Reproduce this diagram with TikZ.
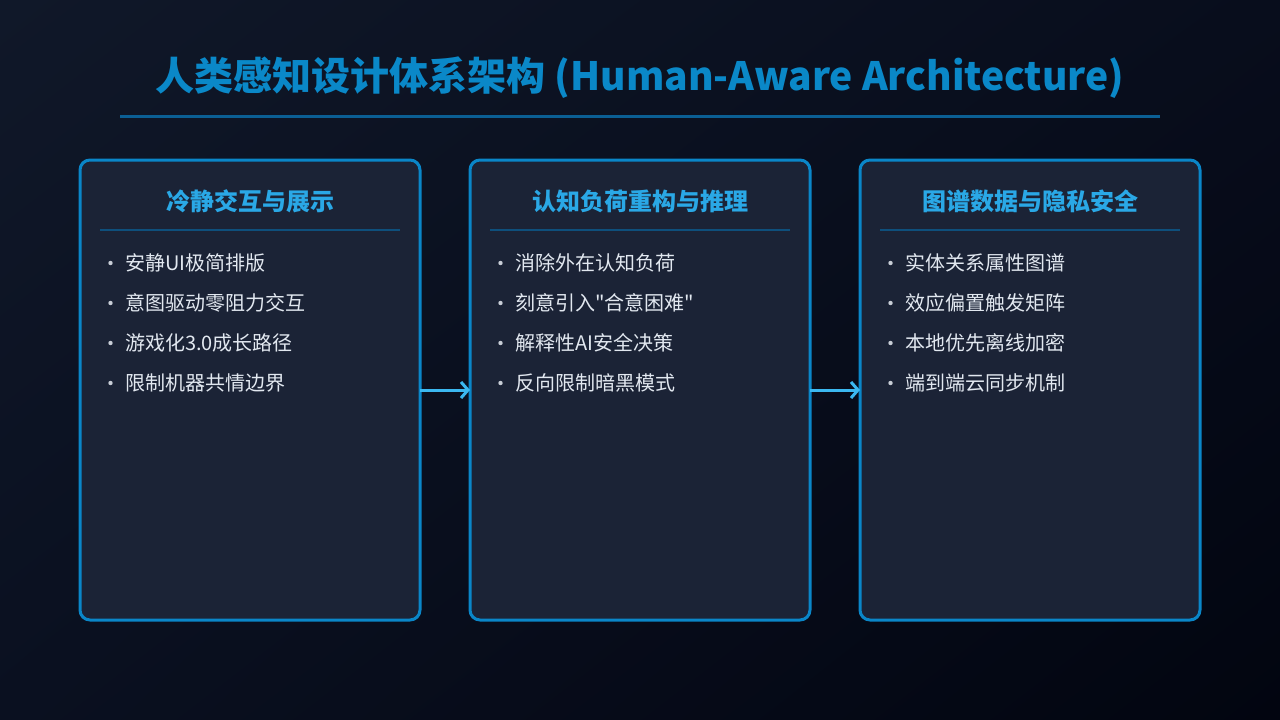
\documentclass[tikz,border=0pt]{standalone}
\usepackage{fontspec}
\setmainfont{Noto Sans CJK SC}
\newfontfamily\cjk{Noto Sans CJK SC}
\usetikzlibrary{arrows.meta,shadings}
\definecolor{titlec}{HTML}{0A88C8}
\definecolor{rulec}{HTML}{0B5F94}
\definecolor{boxfill}{HTML}{1B2336}
\definecolor{boxline}{HTML}{0A86C8}
\definecolor{headc}{HTML}{2AA8E6}
\definecolor{sepc}{HTML}{0E4F7C}
\definecolor{itemc}{HTML}{E2E8F0}
\definecolor{dotc}{HTML}{C8CDD6}
\definecolor{arrowc}{HTML}{3BB8F0}
\definecolor{bgA}{HTML}{101829}
\definecolor{bgB}{HTML}{080D1C}
\definecolor{bgC}{HTML}{0A1020}
\definecolor{bgD}{HTML}{020510}
\tikzset{
  panel/.style={draw=boxline, line width=3pt, fill=boxfill, rounded corners=10pt,
    minimum width=340pt, minimum height=460pt, inner sep=0pt, outer sep=0pt},
  headtext/.style={text=headc, font=\cjk\bfseries\fontsize{24}{28}\selectfont, anchor=base, inner sep=0pt},
  itemtext/.style={text=itemc, font=\cjk\fontsize{20}{24}\selectfont, anchor=base west, inner sep=0pt},
  bulletdot/.style={circle, fill=dotc, minimum size=4.4pt, inner sep=0pt},
  seprule/.style={draw=sepc, line width=2pt},
  flow/.style={draw=arrowc, line width=3pt, -{Straight Barb[length=7pt,width=16pt,line width=3pt]}},
}
\begin{document}
\begin{tikzpicture}[x=1pt,y=-1pt]
\useasboundingbox (0,0) rectangle (1280,720);
\shade[upper left=bgA, upper right=bgB, lower left=bgC, lower right=bgD] (0,0) rectangle (1280,720);
% title
\node[text=titlec, font=\cjk\bfseries\fontsize{39}{44}\selectfont, anchor=base, inner sep=0pt] (title) at (640,90) {人类感知设计体系架构 (Human-Aware Architecture)};
\coordinate (tl) at (120,116);
\coordinate (tr) at (1160,116);
\draw[draw=rulec, line width=3pt] (tl) -- (tr);
% panels
\node[panel] (p1) at (250,390) {};
\node[panel] (p2) at (640,390) {};
\node[panel] (p3) at (1030,390) {};
% headers
\node[headtext] (h1) at (250,210) {冷静交互与展示};
\node[headtext] (h2) at (640,210) {认知负荷重构与推理};
\node[headtext] (h3) at (1030,210) {图谱数据与隐私安全};
\foreach \cx/\n in {250/1,640/2,1030/3}{
  \coordinate (sl\n) at (\cx-150,230);
  \coordinate (sr\n) at (\cx+150,230);
  \draw[seprule] (sl\n) -- (sr\n);
}
% items
\foreach \cx/\n/\a/\b/\c/\d in {
  80/1/安静UI极简排版/意图驱动零阻力交互/游戏化3.0成长路径/限制机器共情边界,
  470/2/消除外在认知负荷/刻意引入"合意困难"/解释性AI安全决策/反向限制暗黑模式,
  860/3/实体关系属性图谱/效应偏置触发矩阵/本地优先离线加密/端到端云同步机制}{
  \foreach \t [count=\i] in {\a,\b,\c,\d}{
    \node[bulletdot] (d\n\i) at (\cx+30.5, 223+40*\i) {};
    \node[itemtext] (t\n\i) at (\cx+45, 230.5+40*\i) {\t};
  }
}
% arrows
\draw[flow] (p1.east) -- (p2.west);
\draw[flow] (p2.east) -- (p3.west);
\end{tikzpicture}
\end{document}
